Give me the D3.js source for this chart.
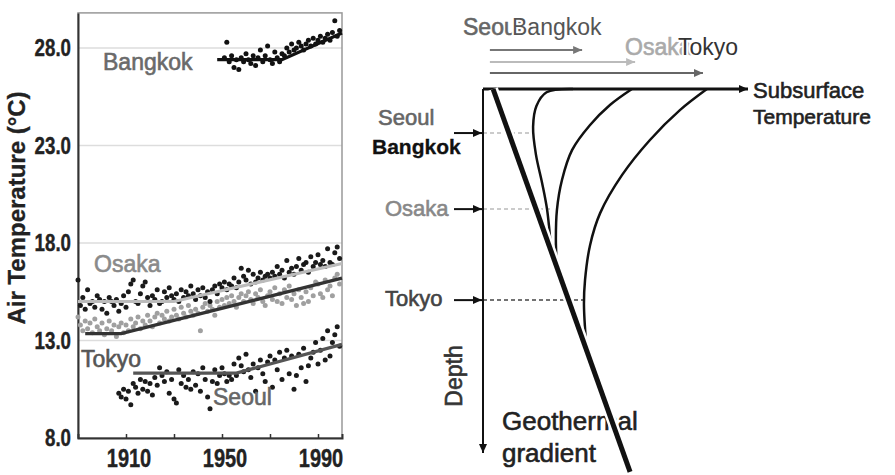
<!DOCTYPE html>
<html>
<head>
<meta charset="utf-8">
<script src="https://cdn.jsdelivr.net/npm/d3@7"></script>
<style>
  body { margin: 0; background: #fff; }
  text { font-family: "Liberation Sans", Arial, sans-serif; }
</style>
</head>
<body>
<svg id="chart" width="895" height="475"></svg>
<script>
// ---- left panel: annual mean air temperature ----
var osakaStart = 1890;
var osakaTemp = [
  16.1, 14.8, 15.2, 14.6, 15.6, 14.9, 15.0, 14.7, 15.3, 15.1,
  14.6, 15.0, 14.4, 15.2, 15.0, 14.8, 15.1, 14.5, 14.9, 15.3,
  14.7, 15.5, 15.9, 16.1, 15.0, 14.9, 15.4, 15.8, 16.0, 15.2,
  14.8, 15.3, 15.1, 15.6, 14.9, 15.0, 15.5, 15.2, 15.7, 15.3,
  15.1, 15.4, 15.0, 15.6, 15.2, 15.5, 15.3, 15.8, 15.4, 15.1,
  15.6, 15.3, 15.7, 15.2, 15.5, 15.0, 15.6, 15.8, 15.4, 15.9,
  15.7, 16.0, 15.6, 15.9, 15.8, 16.2, 15.7, 16.0, 16.7, 16.3,
  16.1, 16.6, 15.9, 16.4, 16.0, 16.2, 16.5, 16.1, 16.3, 16.4,
  16.2, 16.5, 16.3, 16.8, 16.4, 16.6, 16.2, 17.1, 16.5, 16.7,
  16.4, 16.8, 17.2, 16.6, 16.9, 17.0, 16.5, 17.3, 16.8, 17.0,
  17.4, 16.9, 17.1, 16.8, 17.7, 17.0, 16.9, 17.5, 17.8, 17.2
];
var tokyoStart = 1890;
var tokyoTemp = [
  14.2, 13.8, 13.5, 14.0, 13.6, 13.9, 13.4, 14.1, 13.7, 13.5,
  13.9, 13.3, 13.6, 14.0, 13.5, 13.8, 13.2, 13.7, 13.9, 13.4,
  13.8, 13.5, 14.1, 13.7, 13.9, 14.2, 13.6, 14.0, 13.8, 14.3,
  14.0, 13.7, 14.2, 14.4, 13.9, 14.3, 14.1, 14.5, 14.0, 14.2,
  14.6, 14.3, 14.1, 14.7, 14.4, 14.2, 14.8, 14.5, 14.3, 14.6,
  14.4, 13.5, 14.7, 14.9, 14.5, 14.8, 14.6, 14.3, 15.0, 14.7,
  15.1, 14.8, 15.2, 14.9, 15.3, 15.0, 14.7, 15.2, 15.4, 15.0,
  15.3, 15.5, 15.1, 14.9, 15.4, 15.2, 15.6, 15.0, 14.8, 15.3,
  15.5, 15.1, 15.7, 15.0, 15.4, 14.9, 15.6, 15.2, 15.8, 15.1,
  15.4, 14.8, 15.6, 15.2, 14.9, 15.5, 15.0, 15.7, 15.3, 16.0,
  15.9, 15.4, 15.2, 16.1, 15.6, 15.8, 15.3, 16.2, 16.4, 15.9
];
var seoulStart = 1907;
var seoulTemp = [
  10.3, 10.1, 10.5,
  10.0, 10.4, 9.7, 10.8, 10.6, 10.3, 11.0, 10.5, 10.9, 10.4,
  10.8, 10.2, 11.1, 10.7, 11.6, 11.2, 10.9, 11.4, 10.3, 11.0,
  10.0, 9.8, 11.5, 10.8, 11.2, 10.6, 11.0, 10.5, 11.4, 10.7,
  11.3, 10.4, 11.6, 11.0, 10.1, 9.5, 10.9, 11.5, 10.8, 11.2,
  11.6, 11.3, 10.9, 11.2, 11.0, 11.8, 11.2, 12.1, 11.7, 11.4,
  12.3, 11.5, 11.1, 11.8, 10.4, 11.6, 12.0, 11.3, 10.9, 11.9,
  12.2, 10.6, 12.0, 11.5, 12.4, 11.0, 12.1, 12.5, 11.3, 12.2,
  10.5, 11.2, 12.3, 11.6, 12.6, 10.9, 11.7, 12.1, 12.4, 12.9,
  11.8, 12.5, 13.1, 12.0, 13.5, 12.2, 12.9, 13.3, 13.7, 12.7
];
var bangkokStart = 1951;
var bangkokTemp = [
  27.5, 28.3, 27.3, 27.6, 27.0, 27.4, 26.9, 27.5, 27.3,
  27.7, 27.4, 27.2, 27.6, 27.1, 27.5, 27.9, 27.3, 27.6, 28.1,
  27.4, 27.2, 27.8, 27.5, 27.3, 27.7, 27.6, 28.0, 27.8, 28.2,
  27.9, 28.0, 28.3, 28.1, 27.9, 28.2, 28.4, 28.1, 28.5, 28.2,
  28.4, 28.6, 28.3, 28.5, 28.7, 28.4, 28.8, 29.4, 28.6, 28.9
];

var osakaTrend = [[1890, 15.0], [1930, 15.0], [2000, 16.95]];
var tokyoTrend = [[1893, 13.35], [1908, 13.35], [2000, 16.2]];
var seoulTrend = [[1913, 11.33], [1956, 11.33], [2000, 12.8]];
var bangkokTrend = [[1948, 27.4], [1975, 27.4], [2000, 28.77]];

var yTicks = [8, 13, 18, 23, 28];
var xTicks = [1910, 1930, 1950, 1970, 1990];
var xTickLabels = [1910, 1950, 1990];

// ---- right panel: schematic subsurface profiles (temp %, depth %) ----
var gradientLine = [[3.8, 0], [55.5, 105.2]];
var profileSeoulBangkok = [[34.0, 0], [24.0, 0.9], [20.2, 4.6], [18.9, 10.4], [20.0, 18.1], [22.3, 25.8], [24.2, 33.2], [25.7, 44.2]];
var profileOsaka = [[56.2, 0], [47.9, 4.4], [40.4, 9.9], [33.6, 16.8], [29.8, 25.0], [27.9, 33.2], [27.5, 41.5], [27.9, 49.2]];
var profileTokyo = [[84.5, 0], [74.3, 5.8], [63.0, 14.0], [52.5, 23.6], [44.2, 34.1], [40.4, 42.9], [38.5, 52.5], [38.1, 59.3], [38.9, 69.8]];
var warmingArrows = [
  { city: "Seoul/Bangkok", level: -10.7, end: 37.4, color: "#777" },
  { city: "Osaka", level: -7.4, end: 57.4, color: "#bbb" },
  { city: "Tokyo", level: -4.4, end: 83.0, color: "#666" }
];
var depthMarks = [
  { city: "Seoul/Bangkok", depth: 12.1, end: 18.9, color: "#bbb" },
  { city: "Osaka", depth: 33.0, end: 25.3, color: "#bbb" },
  { city: "Tokyo", depth: 58.0, end: 38.1, color: "#444" }
];

var svg = d3.select("#chart");

// arrow markers
var markerColors = ["#111", "#777", "#bbb", "#666"];
var defs = svg.append("defs");
markerColors.forEach(function(c, i) {
  defs.append("marker")
    .attr("id", "arr" + i)
    .attr("markerUnits", "userSpaceOnUse")
    .attr("markerWidth", 10).attr("markerHeight", 10)
    .attr("refX", 9).attr("refY", 5)
    .attr("orient", "auto")
    .append("path").attr("d", "M0,1 L9,5 L0,9 Z").attr("fill", c);
});
function markerFor(c) { return "url(#arr" + markerColors.indexOf(c) + ")"; }

// text helper: slightly heavier strokes like the blurred original
function label(sel, txt, xx, yy, size, color, opts) {
  opts = opts || {};
  var t = sel.append("text")
    .attr("transform", "translate(" + xx + "," + yy + ")" + (opts.rotate ? " rotate(" + opts.rotate + ")" : "") + (opts.sx ? " scale(" + opts.sx + ",1)" : ""))
    .attr("font-size", size).attr("fill", color)
    .attr("text-anchor", opts.anchor || "start")
    .attr("font-weight", opts.bold ? "bold" : "normal")
    .attr("stroke", color).attr("stroke-width", opts.heavy == null ? 0.6 : opts.heavy)
    .text(txt);
  // knockout: white outline hides the end of the text underneath
  if (opts.knockout) {
    t.attr("stroke", "#fff").attr("stroke-width", 4).style("paint-order", "stroke");
  }
  return t;
}

var x = d3.scaleLinear().domain([1890, 2000]).range([78, 342]);
var y = d3.scaleLinear().domain([8, 29.8]).range([438, 12.9]);

// gridlines
svg.append("g").selectAll("line")
  .data(yTicks.filter(function(d) { return d > 8; }))
  .enter().append("line")
  .attr("x1", x(1890)).attr("x2", x(2000))
  .attr("y1", function(d) { return y(d); }).attr("y2", function(d) { return y(d); })
  .attr("stroke", "#ddd").attr("stroke-width", 1.5);

// frame
svg.append("rect")
  .attr("x", x(1890)).attr("y", y(29.8))
  .attr("width", x(2000) - x(1890)).attr("height", y(8) - y(29.8))
  .attr("fill", "none").attr("stroke", "#999").attr("stroke-width", 1.5);

var xAxis = svg.append("g")
  .attr("transform", "translate(0," + y(8) + ")")
  .call(d3.axisBottom(x).tickValues(xTicks).tickSize(-4).tickFormat(""));
xAxis.select(".domain").attr("stroke", "#333").attr("stroke-width", 2);
xAxis.selectAll(".tick line").attr("stroke", "#333").attr("stroke-width", 1.5);

var yAxis = svg.append("g")
  .attr("transform", "translate(" + x(1890) + ",0)")
  .call(d3.axisLeft(y).tickValues(yTicks).tickSize(0).tickFormat(""));
yAxis.select(".domain").attr("stroke", "#333").attr("stroke-width", 2);

var fmt = d3.format(".1f");
yTicks.forEach(function(d) {
  label(svg, fmt(d), 71, y(d) + 8, 24, "#222", { anchor: "end", bold: true, sx: 0.78, heavy: 0.4 });
});
xTickLabels.forEach(function(d) {
  label(svg, d, x(d) + 3, 467, 25, "#222", { anchor: "middle", bold: true, sx: 0.8, heavy: 0.4 });
});

label(svg, "Air Temperature (°C)", 25, 208, 24, "#222", { anchor: "middle", bold: true, rotate: -90, heavy: 0.3 });

// dots
function dots(start, values, color) {
  svg.append("g").selectAll("circle")
    .data(values).enter().append("circle")
    .attr("cx", function(d, i) { return x(start + i); })
    .attr("cy", function(d) { return y(d); })
    .attr("r", 2.5)
    .attr("fill", color);
}
dots(tokyoStart, tokyoTemp, "#a0a0a0");
dots(osakaStart, osakaTemp, "#1a1a1a");
dots(seoulStart, seoulTemp, "#1a1a1a");
dots(bangkokStart, bangkokTemp, "#111");

var trend = d3.line().x(function(d) { return x(d[0]); }).y(function(d) { return y(d[1]); });
[[osakaTrend, "#bbb"], [tokyoTrend, "#333"], [seoulTrend, "#555"], [bangkokTrend, "#111"]].forEach(function(t) {
  svg.append("path").attr("d", trend(t[0]))
    .attr("fill", "none").attr("stroke", t[1]).attr("stroke-width", 3.2);
});

// city labels on the left panel
label(svg, "Bangkok", 103, 70, 23, "#6a6a6a");
label(svg, "Osaka", 94, 272, 23, "#8a8a8a");
label(svg, "Tokyo", 81, 367, 23, "#555");
label(svg, "Seoul", 213, 405, 23, "#666");

// ---- right panel ----
var tx = d3.scaleLinear().domain([0, 100]).range([483, 748]);
var dz = d3.scaleLinear().domain([0, 100]).range([89, 453]);
var prof = d3.line().x(function(d) { return tx(d[0]); }).y(function(d) { return dz(d[1]); })
  .curve(d3.curveCatmullRom.alpha(0.5));

// warming arrows at the top
svg.append("g").selectAll("line")
  .data(warmingArrows).enter().append("line")
  .attr("x1", tx(2.6)).attr("x2", function(d) { return tx(d.end); })
  .attr("y1", function(d) { return dz(d.level); }).attr("y2", function(d) { return dz(d.level); })
  .attr("stroke", function(d) { return d.color; }).attr("stroke-width", 2)
  .attr("marker-end", function(d) { return markerFor(d.color); });

// dashed depth lines
svg.append("g").selectAll("line")
  .data(depthMarks).enter().append("line")
  .attr("x1", tx(0)).attr("x2", function(d) { return tx(d.end); })
  .attr("y1", function(d) { return dz(d.depth); }).attr("y2", function(d) { return dz(d.depth); })
  .attr("stroke", function(d) { return d.color; }).attr("stroke-width", 1.5)
  .attr("stroke-dasharray", "4,3");

// label arrows to the depth axis
svg.append("g").selectAll("line")
  .data(depthMarks).enter().append("line")
  .attr("x1", 454).attr("x2", tx(0) - 1)
  .attr("y1", function(d) { return dz(d.depth); }).attr("y2", function(d) { return dz(d.depth); })
  .attr("stroke", "#111").attr("stroke-width", 2)
  .attr("marker-end", markerFor("#111"));

// profiles
[profileSeoulBangkok, profileOsaka, profileTokyo].forEach(function(p) {
  svg.append("path").attr("d", prof(p))
    .attr("fill", "none").attr("stroke", "#111").attr("stroke-width", 2.5);
});

// axes
svg.append("line")
  .attr("x1", tx(0)).attr("x2", tx(0)).attr("y1", dz(0)).attr("y2", dz(100))
  .attr("stroke", "#111").attr("stroke-width", 2).attr("marker-end", markerFor("#111"));
svg.append("line")
  .attr("x1", tx(0)).attr("x2", tx(100)).attr("y1", dz(0)).attr("y2", dz(0))
  .attr("stroke", "#111").attr("stroke-width", 3).attr("marker-end", markerFor("#111"));

label(svg, "Subsurface", 753, 98, 22, "#222");
label(svg, "Temperature", 753, 124, 21, "#222");

// Geothermal gradient text with the thick line crossing it
label(svg, "Geothermal", 502, 430, 26, "#222");
label(svg, "gradient", 502, 462, 26, "#222");
var gline = d3.line().x(function(d) { return tx(d[0]); }).y(function(d) { return dz(d[1]); });
svg.append("path").attr("d", gline(gradientLine))
  .attr("stroke", "#fff").attr("stroke-width", 10).attr("fill", "none");
svg.append("path").attr("d", gline(gradientLine))
  .attr("stroke", "#111").attr("stroke-width", 5).attr("fill", "none");

label(svg, "Depth", 462, 376, 23, "#333", { anchor: "middle", rotate: -90 });

// top labels (later text covers the end of the earlier one, as in the original)
label(svg, "Seoul", 463, 35, 23, "#666");
label(svg, "Bangkok", 512, 35, 23, "#555", { knockout: true });
label(svg, "Osaka", 625, 55, 23, "#aaa");
label(svg, "Tokyo", 678, 55, 23, "#333", { knockout: true });

// side labels
label(svg, "Seoul", 378, 125, 22, "#666");
label(svg, "Bangkok", 372, 154, 21, "#111", { bold: true, heavy: 0.3 });
label(svg, "Osaka", 385, 216, 22, "#888");
label(svg, "Tokyo", 385, 306, 22, "#444");
</script>
</body>
</html>
